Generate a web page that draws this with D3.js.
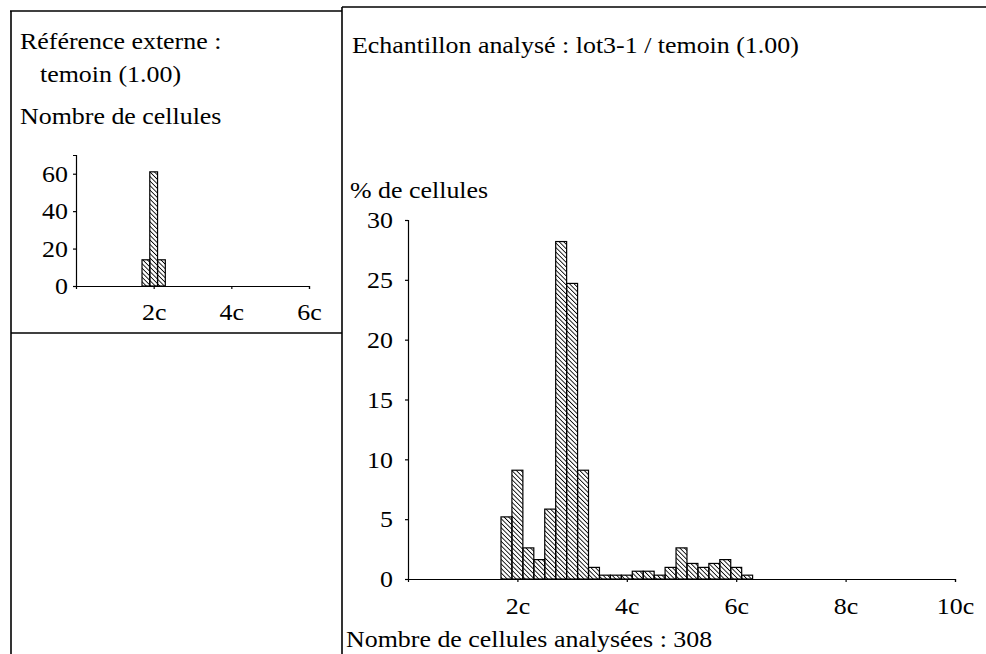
<!DOCTYPE html>
<html>
<head>
<meta charset="utf-8">
<script src="https://cdn.jsdelivr.net/npm/d3@7"></script>
<style>
  body { margin: 0; background: #fff; }
  .axis path, .axis line { stroke: #000; stroke-width: 1.2; }
</style>
</head>
<body>
<script>
// reference sample (nombre de cellules) by DNA content, bins 0.2c wide
const refBins = [1.8, 2.0, 2.2];
const refCounts = [14, 61, 14];
const refTicksY = [0, 20, 40, 60];
const refTicksX = [2, 4, 6];

// analysed sample (% de cellules), 308 cells
const bins = [1.8, 2.0, 2.2, 2.4, 2.6, 2.8, 3.0, 3.2, 3.4, 3.6, 3.8, 4.0, 4.2, 4.4, 4.6, 4.8, 5.0, 5.2, 5.4, 5.6, 5.8, 6.0, 6.2];
const percents = [5.19, 9.09, 2.60, 1.62, 5.84, 28.2, 24.7, 9.09, 0.97, 0.32, 0.32, 0.32, 0.65, 0.65, 0.32, 0.97, 2.60, 1.30, 0.97, 1.30, 1.62, 0.97, 0.32];
const ticksY = [0, 5, 10, 15, 20, 25, 30];
const ticksX = [2, 4, 6, 8, 10];

const width = 986, height = 654;
const serif = "'Liberation Serif'";
const fontSize = '24px';
const stretch = 1.08; // scan is a bit wider than the font

const svg = d3.select('body')
  .append('svg')
  .attr('width', width)
  .attr('height', height);

// hatch fill
svg.append('defs')
  .append('pattern')
  .attr('id', 'hatch')
  .attr('patternUnits', 'userSpaceOnUse')
  .attr('width', 3.2)
  .attr('height', 3.2)
  .attr('patternTransform', 'rotate(-45)')
  .append('line')
  .attr('x1', 0).attr('y1', 0)
  .attr('x2', 0).attr('y2', 3.2)
  .attr('stroke', '#000')
  .attr('stroke-width', 1.7);

// frame
const frame = [
  [10, 11, 342, 11],
  [11, 11, 11, 654],
  [11, 333, 342, 333],
  [342, 7, 342, 654],
  [342, 7, 986, 7]
];
svg.selectAll('.frame')
  .data(frame)
  .enter().append('line')
  .attr('class', 'frame')
  .attr('x1', d => d[0]).attr('y1', d => d[1])
  .attr('x2', d => d[2]).attr('y2', d => d[3])
  .attr('stroke', '#000')
  .attr('stroke-width', 1.6);

const label = (x, y, s) => svg.append('text')
  .attr('transform', 'translate(' + x + ',' + y + ') scale(' + stretch + ',1)')
  .style('font-family', serif)
  .style('font-size', fontSize)
  .text(s);

label(20, 49, 'Référence externe :');
label(40, 82, 'temoin (1.00)');
label(20, 124, 'Nombre de cellules');
label(352, 53, 'Echantillon analysé : lot3-1 / temoin (1.00)');
label(350, 198, '% de cellules');
label(346, 647, 'Nombre de cellules analysées : 308');

const styleAxis = g => g.selectAll('text')
  .attr('transform', 'scale(' + stretch + ',1)')
  .style('font-family', serif)
  .style('font-size', fontSize);

// small reference chart
const rx = d3.scaleLinear().domain([0, 6]).range([76, 309]);
const ry = d3.scaleLinear().domain([0, 70]).range([286, 155]);

svg.append('g')
  .attr('class', 'axis')
  .attr('transform', 'translate(0,' + ry(0) + ')')
  .call(d3.axisBottom(rx).tickValues(refTicksX).tickFormat(d => d + 'c').tickSizeOuter(0).tickSize(3).tickPadding(14))
  .call(styleAxis);

svg.append('g')
  .attr('class', 'axis')
  .attr('transform', 'translate(' + rx(0) + ',0)')
  .call(d3.axisLeft(ry).tickValues(refTicksY).tickSizeOuter(0).tickSize(3).tickPadding(4.5))
  .call(styleAxis);

svg.selectAll('.refbar')
  .data(refBins)
  .enter().append('rect')
  .attr('class', 'refbar')
  .attr('x', d => rx(d - 0.1))
  .attr('width', d => rx(d + 0.1) - rx(d - 0.1))
  .attr('y', (d, i) => ry(refCounts[i]))
  .attr('height', (d, i) => ry(0) - ry(refCounts[i]))
  .attr('fill', 'url(#hatch)')
  .attr('stroke', '#000')
  .attr('stroke-width', 1.2);

// main chart
const x = d3.scaleLinear().domain([0, 10]).range([408, 955]);
const y = d3.scaleLinear().domain([0, 30]).range([579, 220]);

svg.append('g')
  .attr('class', 'axis')
  .attr('transform', 'translate(0,' + y(0) + ')')
  .call(d3.axisBottom(x).tickValues(ticksX).tickFormat(d => d + 'c').tickSizeOuter(0).tickSize(3).tickPadding(15))
  .call(styleAxis);

svg.append('g')
  .attr('class', 'axis')
  .attr('transform', 'translate(' + x(0) + ',0)')
  .call(d3.axisLeft(y).tickValues(ticksY).tickSizeOuter(0).tickSize(3).tickPadding(11))
  .call(styleAxis);

svg.selectAll('.bar')
  .data(bins)
  .enter().append('rect')
  .attr('class', 'bar')
  .attr('x', d => x(d - 0.1))
  .attr('width', d => x(d + 0.1) - x(d - 0.1))
  .attr('y', (d, i) => y(percents[i]))
  .attr('height', (d, i) => y(0) - y(percents[i]))
  .attr('fill', 'url(#hatch)')
  .attr('stroke', '#000')
  .attr('stroke-width', 1.2);
</script>
</body>
</html>
